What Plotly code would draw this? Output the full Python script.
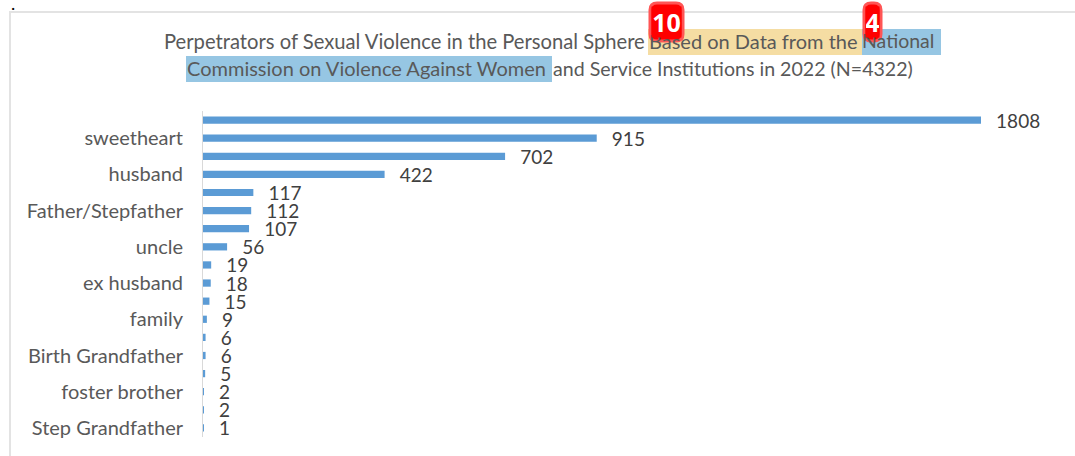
import plotly.graph_objects as go

# %% Data
positions = list(range(18))
values = [1808, 915, 702, 422, 117, 112, 107, 56, 19, 18, 15, 9, 6, 6, 5, 2, 2, 1]
tick_positions = [1, 3, 5, 7, 9, 11, 13, 15, 17]
tick_labels = ['sweetheart', 'husband', 'Father/Stepfather', 'uncle', 'ex husband',
               'family', 'Birth Grandfather', 'foster brother', 'Step Grandfather']

W, H = 1075, 456
FONT = 'Lato'
GREY = '#595959'

# helpers to go from picture pixels to paper coordinates
L, R, T, B = 203, 15, 111, 19
def px(x):
    return (x - L) / (W - L - R)
def py(y):
    return 1 - (y - T) / (H - T - B)

fig = go.Figure(
    go.Bar(x = values, y = positions, orientation = 'h',
           marker = dict(color = '#5B9BD5', line_width = 0),
           text = values,
           texttemplate = '&nbsp;&nbsp;&#8201;%{x}',
           textposition = 'outside',
           constraintext = 'none',
           cliponaxis = False,
           textfont = dict(family = FONT, size = 19, color = '#404040'),
           hoverinfo = 'skip')
)

fig.update_layout(width = W, height = H,
                  margin = dict(l = L, r = R, t = T, b = B),
                  paper_bgcolor = 'white', plot_bgcolor = 'white',
                  showlegend = False, bargap = 0.6,
                  font_family = FONT)

fig.update_xaxes(range = [0, 1991.6], visible = False)
fig.update_yaxes(range = [17.5, -0.5], tickmode = 'array',
                 tickvals = tick_positions, ticktext = tick_labels,
                 tickfont = dict(family = FONT, size = 20, color = GREY),
                 ticklabelstandoff = 15,
                 showgrid = False, zeroline = False, ticks = '', ticklen = 0,
                 showline = True, linecolor = '#D9D9D9', linewidth = 1)

# highlighter colours behind parts of the title
highlights = [
    (648, 862, 29, 55, '#F5DDA3'),
    (862, 941, 29, 55, '#96C6E3'),
    (186, 552, 56, 82, '#96C6E3'),
]
for x0, x1, y0, y1, colour in highlights:
    fig.add_shape(type = 'rect', xref = 'paper', yref = 'paper', layer = 'below',
                  x0 = px(x0), x1 = px(x1), y0 = py(y0), y1 = py(y1),
                  fillcolor = colour, line_width = 0)

# title pieces
title_parts = [
    ('Perpetrators of Sexual Violence in the Personal Sphere', 163, 41, 20.2),
    ('Based on Data from the', 648, 41, 20),
    ('National', 861, 41, 19.5),
    ('Commission on Violence Against Women', 186, 68, 20),
    ('and Service Institutions in 2022 (N=4322)', 552, 68, 19.6),
]
for text, x0, yc, size in title_parts:
    fig.add_annotation(xref = 'paper', yref = 'paper', x = px(x0), y = py(yc),
                       xanchor = 'left', yanchor = 'middle', align = 'left',
                       text = text, showarrow = False, borderpad = 0,
                       font = dict(family = FONT, size = size, color = GREY))

# outer frame of the pasted chart
fig.add_shape(type = 'rect', xref = 'paper', yref = 'paper', layer = 'below',
              x0 = px(10), x1 = px(1090), y0 = py(12), y1 = py(470),
              line = dict(color = '#E3E3E3', width = 2))

# red number badges: rounded shape, then a red box that covers the title under it
def badge(x0, x1, y0, y1, text):
    r = 7
    path = (f'M {px(x0 + r)} {py(y0)} L {px(x1 - r)} {py(y0)} Q {px(x1)} {py(y0)} {px(x1)} {py(y0 + r)} '
            f'L {px(x1)} {py(y1 - r)} Q {px(x1)} {py(y1)} {px(x1 - r)} {py(y1)} '
            f'L {px(x0 + r)} {py(y1)} Q {px(x0)} {py(y1)} {px(x0)} {py(y1 - r)} '
            f'L {px(x0)} {py(y0 + r)} Q {px(x0)} {py(y0)} {px(x0 + r)} {py(y0)} Z')
    fig.add_shape(type = 'path', path = path, xref = 'paper', yref = 'paper',
                  fillcolor = '#FF0000', line = dict(color = '#FF5555', width = 3))
    fig.add_annotation(xref = 'paper', yref = 'paper', x = px((x0 + x1) / 2), y = py((y0 + y1) / 2),
                       xanchor = 'center', yanchor = 'middle',
                       width = x1 - x0 - 4, height = y1 - y0 - 8, bgcolor = '#FF0000',
                       borderpad = 0, text = '<b>' + text + '</b>', showarrow = False,
                       font = dict(family = 'Open Sans', size = 25, color = 'white'))

badge(650, 683, 3, 41, '10')
badge(864, 881, 3, 41, '4')

fig.add_annotation(xref = 'paper', yref = 'paper', x = px(13), y = py(3),
                   xanchor = 'center', yanchor = 'middle',
                   text = '.', showarrow = False,
                   font = dict(family = FONT, size = 18, color = 'black'))

# the page's default body margin would push the chart off by 8px
fig.write_html("out.html", config = dict(displayModeBar = False),
               post_script = "document.body.style.margin = '0';")
